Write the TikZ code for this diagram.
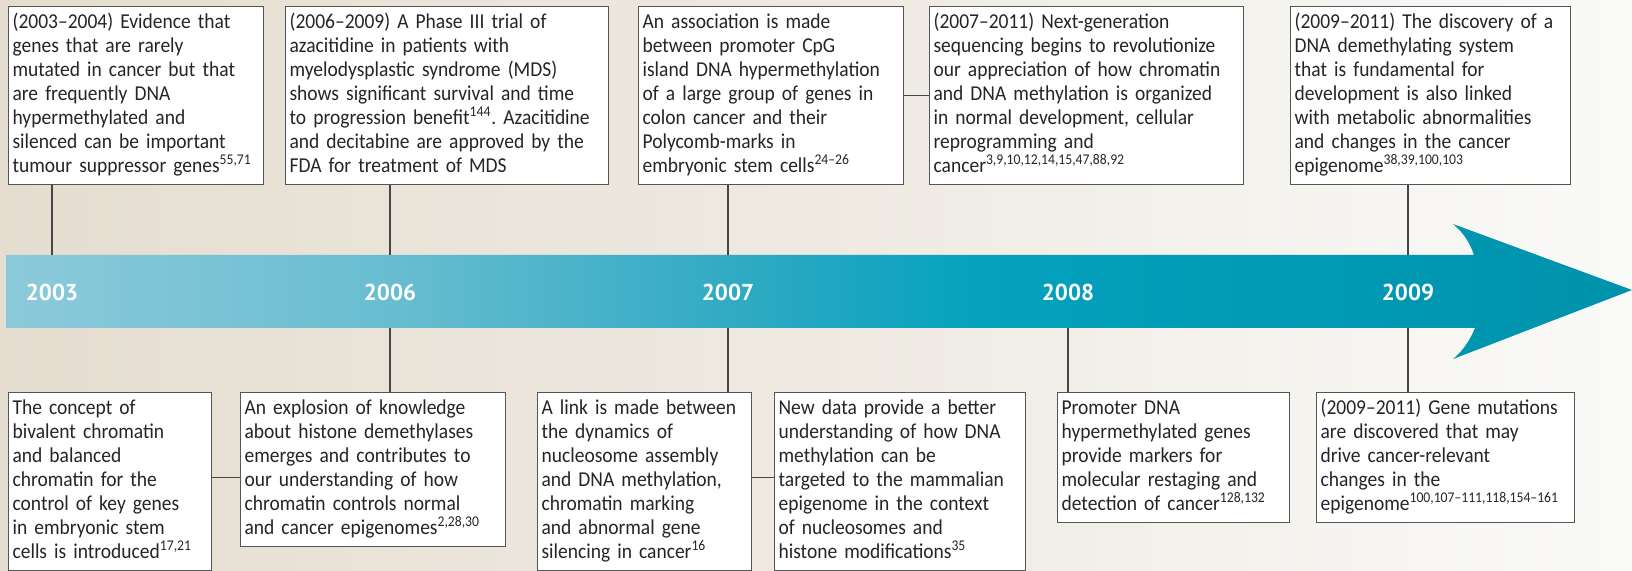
\documentclass[tikz,border=0pt]{standalone}
\usepackage{fontspec}
\setmainfont{Carlito}[FakeStretch=0.92]
\newfontfamily\yearfont{PT Sans}
\usepackage{tikz}
\usepackage{xcolor}
\usetikzlibrary{calc,positioning}
\definecolor{bgleft}{RGB}{229,221,208}
\definecolor{bgmid}{RGB}{238,234,226}
\definecolor{bgright}{RGB}{250,250,248}
\definecolor{bandA}{RGB}{140,202,219}
\definecolor{bandB}{RGB}{104,189,208}
\definecolor{bandC}{RGB}{48,170,196}
\definecolor{bandD}{RGB}{4,162,189}
\definecolor{bandE}{RGB}{0,151,177}
\definecolor{bandF}{RGB}{0,146,171}
\definecolor{boxgray}{RGB}{85,85,85}
\definecolor{tickgray}{RGB}{70,70,70}
\definecolor{textgray}{RGB}{40,36,37}
\pgfdeclarehorizontalshading{bgshade}{100bp}{color(0bp)=(bgleft); color(25bp)=(bgleft); color(50bp)=(bgmid); color(75bp)=(bgright); color(100bp)=(bgright)}
\pgfdeclarehorizontalshading{bandshade}{100bp}{color(0bp)=(bandA); color(25bp)=(bandA); color(37bp)=(bandB); color(47.5bp)=(bandC); color(55bp)=(bandD); color(68bp)=(bandE); color(75bp)=(bandF); color(100bp)=(bandF)}
\newcommand\evfont{\fontsize{10.6}{12}\selectfont\frenchspacing}
\newcommand\yrfont{\yearfont\bfseries\fontsize{11.5}{12}\selectfont}

\begin{document}
\begin{tikzpicture}[x=0.5pt,y=-0.5pt,
    evbox/.style={draw=boxgray,fill=white,line width=0.6pt,anchor=north west,align=left,
      inner xsep=2pt,inner ysep=2.5pt,font=\evfont,text=textgray,
      execute at begin node={\parindent=0pt\hyphenpenalty=10000\strut}},
    yearlbl/.style={font=\yrfont,text=white,inner sep=0pt},
    tick/.style={draw=tickgray,line width=0.55pt},
    link/.style={draw=tickgray,line width=0.7pt}]
  \useasboundingbox (0,0) rectangle (1632,571);
  \path[shading=bgshade] (0,0) rectangle (1632,571);

  \path[shading=bandshade] (6,255) -- (1474,255)
    .. controls (1470,243) and (1463,232) .. (1453,224) -- (1632,290) -- (1453,359)
    .. controls (1463,351) and (1470,340) .. (1475,328) -- (6,328) -- cycle;
  \coordinate (bandtop) at (0,255);
  \coordinate (bandbot) at (0,328);

  \node[yearlbl] (y2003) at (52,292) {2003};
  \node[yearlbl] (y2006) at (390,292) {2006};
  \node[yearlbl] (y2007) at (728,292) {2007};
  \node[yearlbl] (y2008) at (1068,292) {2008};
  \node[yearlbl] (y2009) at (1408,292) {2009};

  \node[evbox,text width=123.5pt] (b1) at (8,6) {(2003–2004) Evidence that\\genes that are rarely\\mutated in cancer but that\\are frequently DNA\\hypermethylated and\\silenced can be important\\tumour suppressor genes\textsuperscript{55,71}\strut};
  \node[evbox,text width=157.5pt] (b2) at (285,6) {(2006–2009) A Phase III trial of\\azacitidine in patients with\\myelodysplastic syndrome (MDS)\\shows significant survival and time\\to progression benefit\textsuperscript{144}. Azacitidine\\and decitabine are approved by the\\FDA for treatment of MDS\strut};
  \node[evbox,text width=128.5pt] (b3) at (638,6) {An association is made\\between promoter CpG\\island DNA hypermethylation\\of a large group of genes in\\colon cancer and their\\Polycomb-marks in\\embryonic stem cells\textsuperscript{24–26}\strut};
  \node[evbox,text width=153pt] (b4) at (929,6) {(2007–2011) Next-generation\\sequencing begins to revolutionize\\our appreciation of how chromatin\\and DNA methylation is organized\\in normal development, cellular\\reprogramming and\\cancer\textsuperscript{3,9,10,12,14,15,47,88,92}\strut};
  \node[evbox,text width=136pt] (b5) at (1290,6) {(2009–2011) The discovery of a\\DNA demethylating system\\that is fundamental for\\development is also linked\\with metabolic abnormalities\\and changes in the cancer\\epigenome\textsuperscript{38,39,100,103}\strut};

  \node[evbox,text width=97.5pt] (b6) at (8,392) {The concept of\\bivalent chromatin\\and balanced\\chromatin for the\\control of key genes\\in embryonic stem\\cells is introduced\textsuperscript{17,21}\strut};
  \node[evbox,text width=128.5pt] (b7) at (240,392) {An explosion of knowledge\\about histone demethylases\\emerges and contributes to\\our understanding of how\\chromatin controls normal\\and cancer epigenomes\textsuperscript{2,28,30}\strut};
  \node[evbox,text width=103pt] (b8) at (537,392) {A link is made between\\the dynamics of\\nucleosome assembly\\and DNA methylation,\\chromatin marking\\and abnormal gene\\silencing in cancer\textsuperscript{16}\strut};
  \node[evbox,text width=121.5pt] (b9) at (774,392) {New data provide a better\\understanding of how DNA\\methylation can be\\targeted to the mammalian\\epigenome in the context\\of nucleosomes and\\histone modifications\textsuperscript{35}\strut};
  \node[evbox,text width=112pt] (b10) at (1057,392) {Promoter DNA\\hypermethylated genes\\provide markers for\\molecular restaging and\\detection of cancer\textsuperscript{128,132}\strut};
  \node[evbox,text width=125pt] (b11) at (1316,392) {(2009–2011) Gene mutations\\are discovered that may\\drive cancer-relevant\\changes in the\\epigenome\textsuperscript{100,107–111,118,154–161}\strut};

  \draw[tick] (b1.south -| y2003) -- (y2003 |- bandtop);
  \draw[tick] (b2.south -| y2006) -- (y2006 |- bandtop);
  \draw[tick] (b3.south -| y2007) -- (y2007 |- bandtop);
  \draw[tick] (b5.south -| y2009) -- (y2009 |- bandtop);
  \draw[tick] (b7.north -| y2006) -- (y2006 |- bandbot);
  \draw[tick] (b8.north -| y2007) -- (y2007 |- bandbot);
  \draw[tick] (b10.north -| y2008) -- (y2008 |- bandbot);
  \draw[tick] (b11.north -| y2009) -- (y2009 |- bandbot);

  \draw[link] (b3.east) -- (b4.west);
  \draw[link] ([yshift=2pt]b6.east) -- ([yshift=2pt]b6.east -| b7.west);
  \draw[link] ([yshift=2pt]b8.east) -- ([yshift=2pt]b8.east -| b9.west);
\end{tikzpicture}
\end{document}
